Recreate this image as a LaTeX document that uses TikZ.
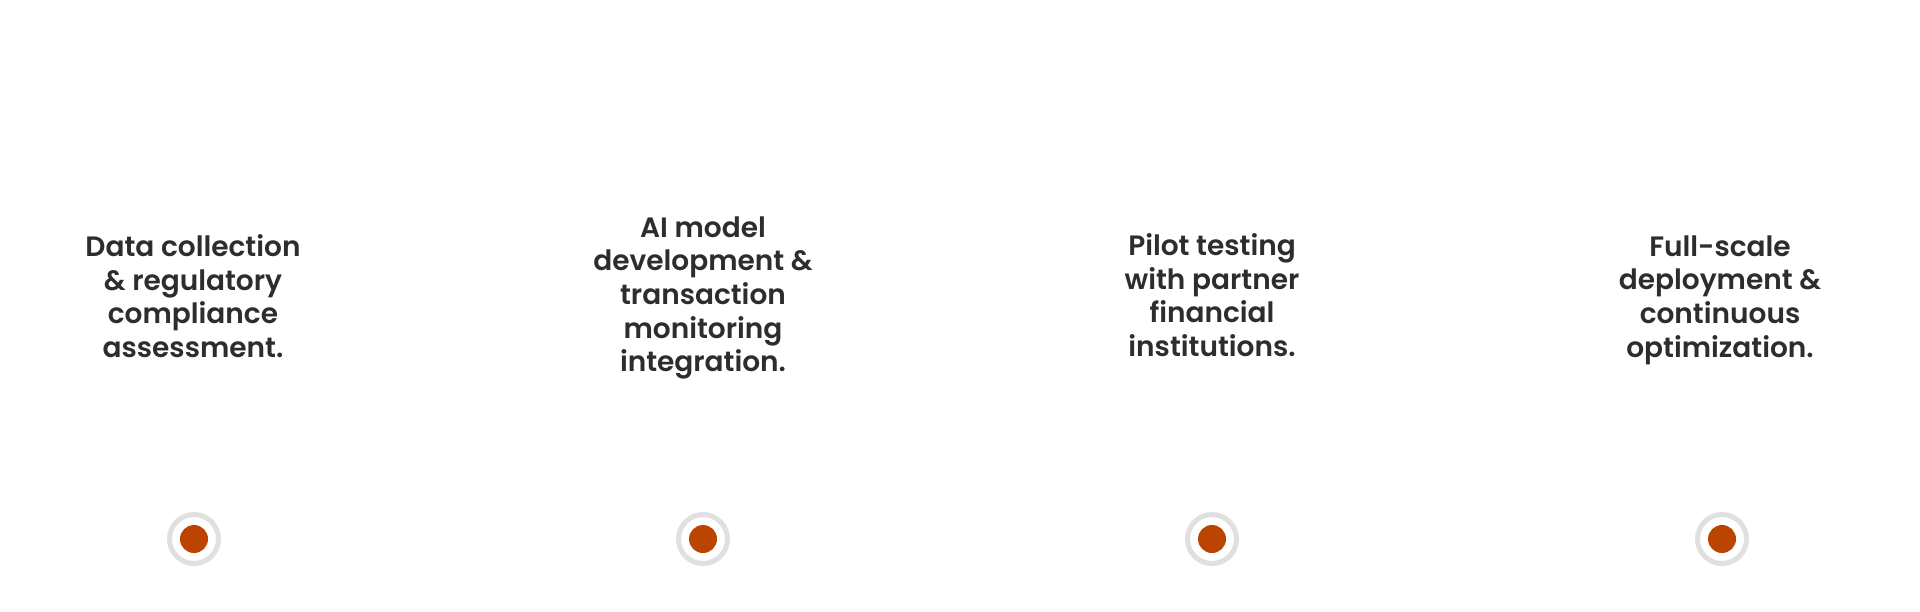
\documentclass[tikz,border=0pt]{standalone}
\usepackage{fontspec}
\setmainfont{Poppins SemiBold}
\definecolor{txt}{RGB}{45,45,45}
\definecolor{ring}{RGB}{224,224,224}
\definecolor{dot}{RGB}{186,68,0}
\begin{document}
\begin{tikzpicture}[x=0.5pt,y=-0.5pt,
  lbl/.style={align=center,text=txt,font=\fontsize{14pt}{16.85pt}\selectfont,inner sep=0pt},
  ringc/.style={circle,draw=ring,line width=2.5pt,fill=white,minimum size=24.5pt,inner sep=0pt},
  dotc/.style={circle,fill=dot,minimum size=14pt,inner sep=0pt}]
\useasboundingbox[fill=white] (0,0) rectangle (1920,611);
\node[lbl] (t1) at (193,296) {Data collection\\\& regulatory\\compliance\\assessment.};
\node[lbl] (t2) at (703,298) {AI model\\development \&\\transaction\\monitoring\\integration.};
\node[lbl] (t3) at (1212,295) {Pilot testing\\with partner\\financial\\institutions.};
\node[lbl] (t4) at (1720,300) {Full-scale\\deployment \&\\continuous\\optimization.};
\foreach \i/\x in {1/194,2/703,3/1212,4/1722}{
  \node[ringc] (r\i) at (\x,539) {};
  \node[dotc] (d\i) at (r\i) {};
}
\end{tikzpicture}
\end{document}
